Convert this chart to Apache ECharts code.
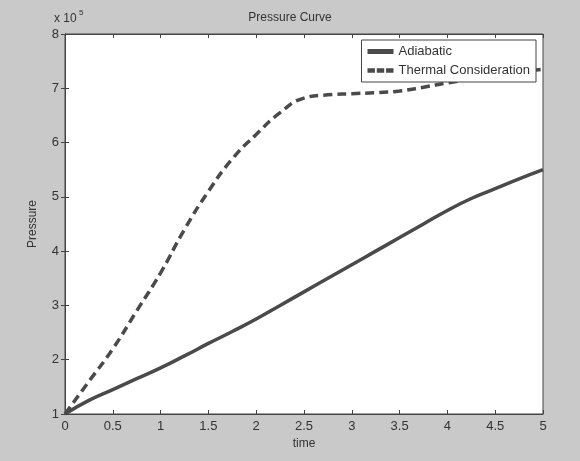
<!DOCTYPE html>
<html><head><meta charset="utf-8">
<script src="https://cdn.jsdelivr.net/npm/echarts@6/dist/echarts.min.js"></script>
<style>html,body{margin:0;background:#c9c9c9}#c{width:580px;height:461px}</style>
</head><body><div id="c"></div>
<script>
const time = [0,0.25,0.5,0.75,1,1.25,1.5,1.75,2,2.25,2.5,2.75,3,3.25,3.5,3.75,4,4.25,4.5,4.75,5];
const adiabatic = [1.0,1.25,1.45,1.65,1.85,2.07,2.3,2.52,2.75,3.0,3.25,3.5,3.75,4.0,4.25,4.5,4.75,4.97,5.15,5.33,5.5];
const thermal = [1.0,1.6,2.2,2.9,3.6,4.4,5.1,5.7,6.15,6.55,6.82,6.88,6.9,6.92,6.95,7.02,7.1,7.17,7.25,7.3,7.35];
const yTicks = [1,2,3,4,5,6,7,8];
const chart = echarts.init(document.getElementById('c'));
const pair = a => time.map((t,i)=>[t,a[i]]);
const font = 'Liberation Sans';
const tick = {show:true,inside:true,length:4,lineStyle:{color:'#444'}};
chart.setOption({
  backgroundColor:'#c9c9c9',
  animation:false,
  title:{text:'Pressure Curve',left:'center',top:7,textStyle:{fontSize:12,fontWeight:'normal',color:'#333',fontFamily:font}},
  graphic:[{type:'text',left:54,top:13,style:{text:'x 10',fontSize:12,fill:'#333',fontFamily:font}},
           {type:'text',left:79,top:9,style:{text:'5',fontSize:8,fill:'#333',fontFamily:font}}],
  legend:{right:44,top:40,orient:'vertical',backgroundColor:'#fff',borderColor:'#444',borderWidth:1,borderRadius:0,padding:[5,6],itemGap:6,itemWidth:26,itemHeight:5,
    textStyle:{fontSize:13,color:'#333',fontFamily:font},
    data:[{name:'Adiabatic',icon:'rect'},{name:'Thermal Consideration',icon:'path://M0,0H8V5H0Z M10,0H18V5H10Z M20,0H28V5H20Z'}]},
  grid:{left:65,right:37,top:34,bottom:47,backgroundColor:'#fff',show:true,borderColor:'#444',borderWidth:1},
  xAxis:[{type:'value',min:0,max:5,interval:0.5,name:'time',nameLocation:'middle',nameGap:18,
    nameTextStyle:{fontSize:12,color:'#333',fontFamily:font},
    axisLine:{lineStyle:{color:'#444'}},axisTick:tick,
    axisLabel:{fontSize:13,color:'#333',fontFamily:font,margin:6},splitLine:{show:false}},
    {type:'value',position:'top',min:0,max:5,interval:0.5,axisLine:{lineStyle:{color:'#444'}},axisTick:tick,axisLabel:{show:false},splitLine:{show:false}}],
  yAxis:[{type:'value',position:'left',min:1,max:8,interval:1,name:'Pressure',nameLocation:'middle',nameGap:26,
    nameTextStyle:{fontSize:12,color:'#333',fontFamily:font},
    axisLine:{show:true,lineStyle:{color:'#444'}},axisTick:tick,
    axisLabel:{fontSize:13,color:'#333',fontFamily:font,margin:6,formatter:v=>yTicks.includes(v)?String(v):''},splitLine:{show:false}},
    {type:'value',position:'right',min:1,max:8,interval:1,axisLine:{show:true,lineStyle:{color:'#444'}},axisTick:tick,axisLabel:{show:false},splitLine:{show:false}}],
  series:[
    {name:'Adiabatic',type:'line',data:pair(adiabatic),smooth:true,showSymbol:false,lineStyle:{color:'#4a4a4a',width:3.5},itemStyle:{color:'#4a4a4a'}},
    {name:'Thermal Consideration',type:'line',data:pair(thermal),smooth:true,showSymbol:false,lineStyle:{color:'#4a4a4a',width:3.5,type:[9,5]},itemStyle:{color:'#4a4a4a'}}
  ]
});
</script></body></html>
